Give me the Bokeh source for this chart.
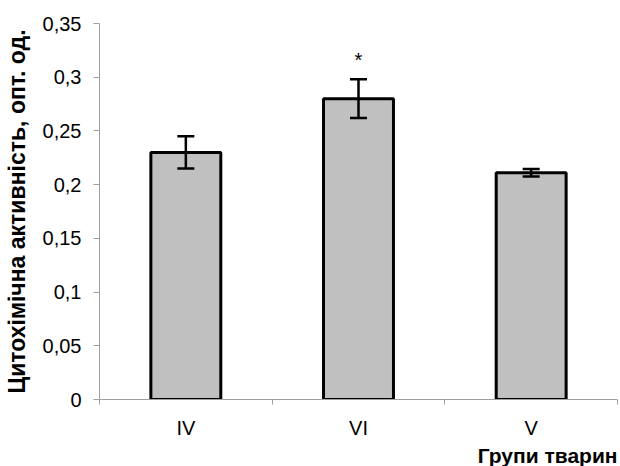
from bokeh.plotting import figure
from bokeh.models import (ColumnDataSource, Range1d, FixedTicker, Whisker, TeeHead, Title)
from bokeh.core.properties import value
from bokeh.embed import file_html
from bokeh.resources import INLINE

groups = ["IV", "VI", "V"]
means = [0.230, 0.280, 0.211]
errors = [0.015, 0.018, 0.0035]
marks = ["", "*", ""]
y_ticks = [0, 0.05, 0.1, 0.15, 0.2, 0.25, 0.3, 0.35]
y_tick_labels = ["0", "0,05", "0,1", "0,15", "0,2", "0,25", "0,3", "0,35"]

xs = [i + 0.5 for i in range(len(groups))]
src = ColumnDataSource(dict(
    x=xs, top=means,
    upper=[m + e for m, e in zip(means, errors)],
    lower=[m - e for m, e in zip(means, errors)],
    star=marks,
    star_y=[m + e + 0.018 for m, e in zip(means, errors)],
))

FONT = "Liberation Sans"

p = figure(width=620, height=466, output_backend="svg", toolbar_location=None,
           x_range=Range1d(0, len(groups)), y_range=Range1d(0, 0.35),
           min_border_left=99, min_border_right=3, min_border_top=23, min_border_bottom=66)
p.outline_line_color = None
p.xgrid.grid_line_color = None
p.ygrid.grid_line_color = None
p.background_fill_color = "white"

p.vbar(x="x", top="top", width=0.405, bottom=0, source=src,
       fill_color="#c0c0c0", line_color="black", line_width=3)

w = Whisker(base="x", upper="upper", lower="lower", source=src,
            line_color="black", line_width=2.5, level="overlay",
            upper_head=TeeHead(size=17, line_color="black", line_width=2.5),
            lower_head=TeeHead(size=17, line_color="black", line_width=2.5))
p.add_layout(w)

p.text(x="x", y="star_y", text="star", source=src, text_font=value(FONT),
       text_font_size="20px", text_align="center", text_baseline="middle",
       text_color="black")

# y axis
ya = p.yaxis[0]
ya.ticker = FixedTicker(ticks=y_ticks, minor_ticks=[])
ya.major_label_overrides = {t: l for t, l in zip(y_ticks, y_tick_labels)}
ya.axis_line_color = "#a0a0a0"
ya.major_tick_line_color = "#a0a0a0"
ya.major_tick_out = 6
ya.major_tick_in = 0
ya.major_label_standoff = 12
ya.major_label_text_font = FONT
ya.major_label_text_font_size = "20px"
ya.major_label_text_color = "black"
ya.axis_label = "Цитохімічна активність, опт. од."
ya.axis_label_text_font = FONT
ya.axis_label_text_font_style = "bold"
ya.axis_label_text_font_size = "23px"
ya.axis_label_text_color = "black"
ya.axis_label_standoff = 10

# x axis
xa = p.xaxis[0]
xa.ticker = FixedTicker(ticks=xs, minor_ticks=list(range(len(groups) + 1)))
xa.major_label_overrides = {x: g for x, g in zip(xs, groups)}
xa.axis_line_color = "#a0a0a0"
xa.major_tick_line_color = None
xa.major_tick_out = 0
xa.major_tick_in = 0
xa.minor_tick_line_color = "#a0a0a0"
xa.minor_tick_out = 5
xa.minor_tick_in = 0
xa.major_label_standoff = 12
xa.major_label_text_font = FONT
xa.major_label_text_font_size = "20px"
xa.major_label_text_color = "black"

p.add_layout(Title(text="Групи тварин", align="right", text_font=FONT,
                   text_font_style="bold", text_font_size="21px",
                   text_color="black", standoff=0, offset=0), "below")

open("out.html", "w").write(file_html(p, INLINE))
